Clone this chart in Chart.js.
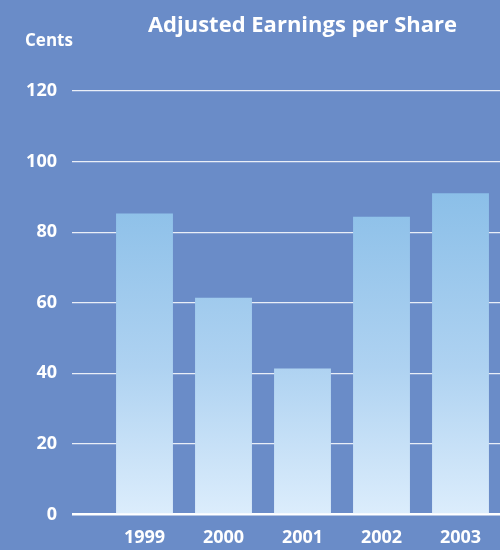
<!DOCTYPE html>
<html>
<head>
<meta charset="utf-8">
<script src="https://cdn.jsdelivr.net/npm/chart.js@4"></script>
<style>
  html, body { margin: 0; padding: 0; background: #6a8cc8; }
  #wrap { width: 500px; height: 550px; position: relative; }
</style>
</head>
<body>
<div id="wrap"><canvas id="eps-chart"></canvas></div>
<script>
const years = ["1999", "2000", "2001", "2002", "2003"];
const epsCents = [85.3, 61.4, 41.4, 84.4, 91];
const yTicks = [0, 20, 40, 60, 80, 100, 120];

const fontFamily = "'Open Sans', 'DejaVu Sans', sans-serif";

// "Cents" unit label, top left
const unitLabel = {
  id: "unitLabel",
  afterDraw(chart) {
    const ctx = chart.ctx;
    ctx.save();
    ctx.fillStyle = "#ffffff";
    ctx.font = "bold 17px " + fontFamily;
    ctx.textAlign = "left";
    ctx.textBaseline = "middle";
    ctx.fillText("Cents", 25, 41);
    ctx.restore();
  }
};

function barGradient(context) {
  const area = context.chart.chartArea;
  if (!area) return "#b0d4f2";
  const g = context.chart.ctx.createLinearGradient(0, area.top, 0, area.bottom);
  g.addColorStop(0, "#7db5e4");
  g.addColorStop(0.24, "#8bbfe8");
  g.addColorStop(0.65, "#aed2f1");
  g.addColorStop(1, "#dcedfc");
  return g;
}

new Chart(document.getElementById("eps-chart").getContext("2d"), {
  type: "bar",
  data: {
    labels: years,
    datasets: [
      {
        data: epsCents,
        backgroundColor: barGradient,
        borderWidth: 0,
        categoryPercentage: 1,
        barPercentage: 0.72,
      },
    ],
  },
  options: {
    responsive: true,
    maintainAspectRatio: false,
    animation: false,
    layout: { padding: 0 },
    plugins: {
      legend: { display: false },
      tooltip: { enabled: false },
      title: {
        display: true,
        text: "Adjusted Earnings per Share",
        color: "#ffffff",
        fullSize: false,
        font: { family: fontFamily, size: 22, weight: "bold", lineHeight: 1.2 },
        padding: { top: 13, bottom: 51.6 },
      },
    },
    scales: {
      x: {
        afterFit(scale) { scale.height = 35.5; },
        grid: { display: false },
        border: { display: false },
        ticks: {
          color: "#ffffff",
          font: { family: fontFamily, size: 18, weight: "bold" },
          padding: 5,
        },
      },
      y: {
        min: 0,
        max: 120,
        afterFit(scale) { scale.width = 105; },
        afterBuildTicks(scale) { scale.ticks = yTicks.map((v) => ({ value: v })); },
        border: { display: false },
        grid: {
          drawTicks: true,
          tickLength: 33,
          color: (c) => (c.tick && c.tick.value === 0 ? "#ffffff" : "rgba(255,255,255,0.85)"),
          lineWidth: (c) => (c.tick && c.tick.value === 0 ? 2.5 : 1.2),
        },
        ticks: {
          color: "#ffffff",
          font: { family: fontFamily, size: 18, weight: "bold" },
          padding: 15,
        },
      },
    },
  },
  plugins: [unitLabel],
});
</script>
</body>
</html>
